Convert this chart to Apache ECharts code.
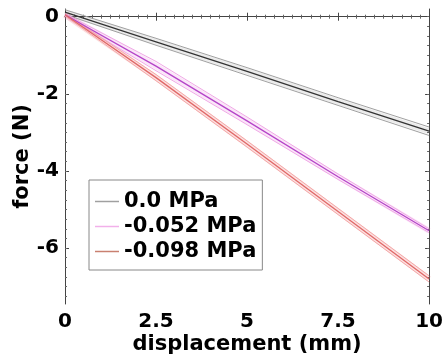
<!DOCTYPE html>
<html>
<head>
<meta charset="utf-8">
<script src="https://cdn.jsdelivr.net/npm/echarts@6/dist/echarts.min.js"></script>
<style>html,body{margin:0;padding:0;background:#fff;}#c{width:446px;height:361px;}</style>
</head>
<body>
<div id="c"></div>
<script>
const displacement = [0, 2.5, 5, 7.5, 10];
const force0 = [0.12, -0.65, -1.42, -2.2, -2.97];
const force052 = [0.05, -1.28, -2.7, -4.15, -5.55];
const force098 = [0.05, -1.58, -3.3, -5.05, -6.8];
const sd0 = [0.06, 0.09, 0.1, 0.1, 0.11];
const sd052 = [0.03, 0.12, 0.1, 0.07, 0.05];
const sd098 = [0.03, 0.08, 0.08, 0.08, 0.08];
const seriesNames = ['0.0 MPa', '-0.052 MPa', '-0.098 MPa'];
const xTicks = [0, 2.5, 5, 7.5, 10];
const yTickLabels = [0, -2, -4, -6];
const yMinorTicks = [];
for (let v = 0; v >= -7.25; v -= 0.25) yMinorTicks.push(+v.toFixed(2));
const yMin = -7.45, yMax = 0.2;

const FONT = 'DejaVu Sans';
const chart = echarts.init(document.getElementById('c'));

function band(name, mean, sd, edge, fill, center) {
  const pts = arr => arr.map((v, i) => [displacement[i], v]);
  const lower = mean.map((m, i) => m - sd[i]);
  const upper = mean.map((m, i) => m + sd[i]);
  return [
    { type: 'line', name: name + '_fill', data: pts(mean), symbol: 'none',
      lineStyle: { color: fill, width: 6 }, silent: true, z: 1 },
    { type: 'line', name: name + '_lo', data: pts(lower), symbol: 'none',
      lineStyle: { color: edge, width: 1 }, silent: true, z: 2 },
    { type: 'line', name: name + '_hi', data: pts(upper), symbol: 'none',
      lineStyle: { color: edge, width: 1 }, silent: true, z: 2 },
    { type: 'line', name: name, data: pts(mean), symbol: 'none', color: center,
      lineStyle: { color: center, width: 1.3 }, z: 3 }
  ];
}

const series = [].concat(
  band(seriesNames[0], force0, sd0, '#a0a0a0', 'rgba(0,0,0,0.08)', '#333333'),
  band(seriesNames[1], force052, sd052, '#f0a8e6', 'rgba(235,130,225,0.20)', '#b545c8'),
  band(seriesNames[2], force098, sd098, '#f4a8a8', 'rgba(240,120,120,0.22)', '#e06868')
);

const axisLineStyle = { color: '#444', width: 1 };
const option = {
  backgroundColor: '#fff',
  animation: false,
  grid: { left: 65, right: 15, top: 9, bottom: 57 },
  legend: {
    left: 89, top: 180, orient: 'vertical',
    data: [
      { name: seriesNames[0], itemStyle: { color: '#a0a0a0' } },
      { name: seriesNames[1], itemStyle: { color: '#f2b0ea' } },
      { name: seriesNames[2], itemStyle: { color: '#c98070' } }
    ],
    icon: 'rect', itemWidth: 24, itemHeight: 1.5, itemGap: 4, itemTextGap: 2,
    padding: [11, 6, 8, 6],
    borderColor: '#888', borderWidth: 1, backgroundColor: '#fff',
    textStyle: { fontFamily: FONT, fontWeight: 'bold', fontSize: 21, color: '#000' }
  },
  xAxis: [
    { type: 'value', min: 0, max: 10, interval: 2.5, position: 'bottom',
      name: 'displacement (mm)', nameLocation: 'middle', nameGap: 30, nameMoveOverlap: false,
      nameTextStyle: { fontFamily: FONT, fontWeight: 'bold', fontSize: 21, color: '#000' },
      axisLine: { lineStyle: axisLineStyle },
      axisTick: { inside: true, length: 4, lineStyle: axisLineStyle },
      minorTick: { show: true, splitNumber: 10, length: 2, lineStyle: { color: '#666' } },
      splitLine: { show: false },
      axisLabel: { fontFamily: FONT, fontWeight: 'bold', fontSize: 20, color: '#000', margin: 8,
        formatter: v => xTicks.includes(v) ? String(v) : '' } },
    { type: 'value', min: 0, max: 10, interval: 2.5, position: 'top',
      axisLine: { lineStyle: axisLineStyle },
      axisTick: { inside: true, length: 4, lineStyle: axisLineStyle },
      minorTick: { show: true, splitNumber: 10, length: 2, lineStyle: { color: '#666' } },
      splitLine: { show: false }, axisLabel: { show: false } }
  ],
  yAxis: [
    { type: 'value', min: yMin, max: yMax, position: 'left',
      name: 'force (N)', nameLocation: 'middle', nameGap: 32, nameMoveOverlap: false,
      nameTextStyle: { fontFamily: FONT, fontWeight: 'bold', fontSize: 21, color: '#000' },
      axisLine: { show: true, lineStyle: axisLineStyle },
      axisTick: { show: true, inside: true, length: 4, customValues: yTickLabels, lineStyle: axisLineStyle },
      splitLine: { show: false },
      axisLabel: { customValues: yTickLabels, fontFamily: FONT, fontWeight: 'bold', fontSize: 20, color: '#000', margin: 6 } },
    { type: 'value', min: yMin, max: yMax, position: 'left',
      axisLine: { show: false },
      axisTick: { show: true, inside: true, length: 2, customValues: yMinorTicks, lineStyle: { color: '#666' } },
      splitLine: { show: false }, axisLabel: { show: false } },
    { type: 'value', min: yMin, max: yMax, position: 'right',
      axisLine: { show: true, lineStyle: axisLineStyle },
      axisTick: { show: true, inside: true, length: 4, customValues: yTickLabels, lineStyle: axisLineStyle },
      splitLine: { show: false }, axisLabel: { show: false } },
    { type: 'value', min: yMin, max: yMax, position: 'right',
      axisLine: { show: false },
      axisTick: { show: true, inside: true, length: 2, customValues: yMinorTicks, lineStyle: { color: '#666' } },
      splitLine: { show: false }, axisLabel: { show: false } }
  ],
  series: series
};
chart.setOption(option);
</script>
</body>
</html>
